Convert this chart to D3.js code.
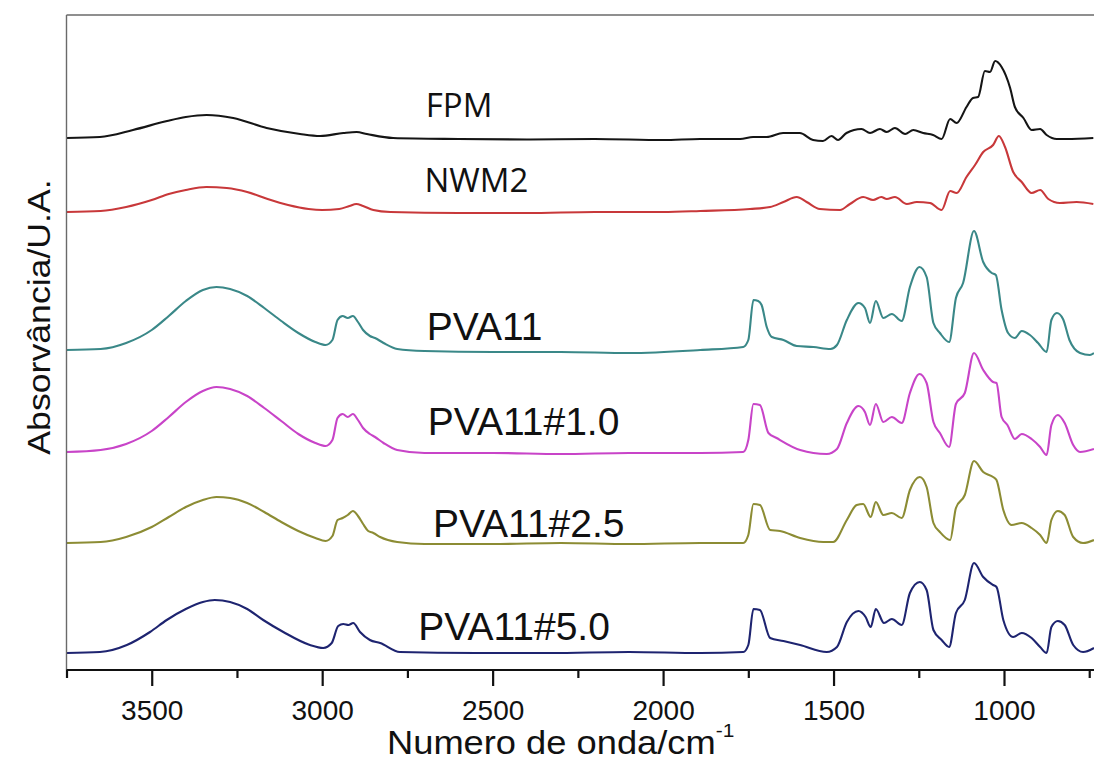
<!DOCTYPE html>
<html>
<head>
<meta charset="utf-8">
<script src="https://cdn.jsdelivr.net/npm/d3@7"></script>
<style>
  body { margin: 0; background: #fff; }
  svg { display: block; }
</style>
</head>
<body>
<div id="wrapper"></div>
<script>
// spectra: [wavenumber (cm-1), absorbance (a.u., stacked)]
const fpm = [[3750,5.32],[3652,5.33],[3555,5.40],[3455,5.49],[3400,5.53],[3339,5.55],[3261,5.52],[3163,5.42],[3065,5.36],[3006,5.34],[2938,5.37],[2899,5.38],[2869,5.36],[2792,5.32],[2600,5.31],[2400,5.305],[2200,5.31],[2000,5.30],[1891,5.31],[1774,5.31],[1736,5.33],[1696,5.33],[1648,5.37],[1599,5.37],[1560,5.30],[1531,5.29],[1506,5.34],[1487,5.30],[1462,5.37],[1418,5.41],[1393,5.37],[1364,5.41],[1344,5.38],[1320,5.42],[1290,5.36],[1266,5.40],[1237,5.37],[1208,5.35],[1183,5.31],[1158,5.51],[1139,5.47],[1110,5.63],[1091,5.72],[1076,5.73],[1056,5.99],[1041,5.98],[1026,6.09],[1007,6.03],[982,5.82],[968,5.63],[943,5.52],[919,5.40],[894,5.41],[875,5.35],[845,5.31],[816,5.31],[738,5.32]]

const nwm2 = [[3750,4.58],[3650,4.59],[3575,4.63],[3500,4.70],[3450,4.76],[3400,4.80],[3340,4.83],[3280,4.82],[3220,4.78],[3160,4.71],[3100,4.65],[3040,4.61],[3000,4.60],[2950,4.61],[2920,4.64],[2900,4.66],[2880,4.64],[2850,4.60],[2800,4.58],[2600,4.57],[2400,4.57],[2200,4.58],[2000,4.58],[1891,4.59],[1745,4.61],[1686,4.63],[1647,4.68],[1608,4.73],[1579,4.68],[1540,4.61],[1481,4.60],[1452,4.66],[1413,4.73],[1384,4.70],[1360,4.73],[1344,4.71],[1320,4.73],[1285,4.66],[1256,4.68],[1217,4.67],[1183,4.60],[1158,4.79],[1139,4.77],[1110,4.93],[1085,5.05],[1061,5.18],[1032,5.25],[1015,5.34],[997,5.23],[973,4.98],[948,4.88],[919,4.77],[894,4.80],[870,4.71],[836,4.67],[787,4.68],[738,4.66]]

const pva11 = [[3750,3.20],[3650,3.21],[3575,3.27],[3500,3.40],[3450,3.54],[3400,3.69],[3350,3.80],[3310,3.83],[3270,3.81],[3220,3.74],[3170,3.62],[3120,3.49],[3070,3.37],[3020,3.28],[2990,3.25],[2970,3.30],[2955,3.50],[2940,3.54],[2925,3.52],[2910,3.54],[2895,3.48],[2880,3.40],[2860,3.34],[2845,3.32],[2820,3.27],[2780,3.21],[2700,3.19],[2500,3.18],[2300,3.18],[2100,3.17],[1891,3.20],[1765,3.23],[1750,3.30],[1735,3.70],[1721,3.69],[1711,3.65],[1696,3.43],[1681,3.33],[1647,3.30],[1608,3.24],[1559,3.23],[1509,3.21],[1490,3.25],[1461,3.50],[1427,3.67],[1408,3.62],[1393,3.47],[1376,3.69],[1354,3.52],[1329,3.56],[1300,3.49],[1276,3.83],[1248,4.03],[1227,3.93],[1207,3.47],[1188,3.37],[1161,3.28],[1141,3.72],[1120,3.87],[1088,4.39],[1061,4.08],[1036,3.97],[1024,3.95],[1007,3.60],[988,3.37],[968,3.32],[948,3.39],[924,3.35],[900,3.27],[875,3.18],[861,3.50],[845,3.57],[827,3.51],[808,3.30],[777,3.17],[748,3.15],[736,3.17]]

const pva11_10 = [[3750,2.18],[3650,2.20],[3575,2.26],[3500,2.39],[3450,2.53],[3400,2.68],[3350,2.79],[3310,2.83],[3270,2.81],[3220,2.74],[3170,2.62],[3120,2.49],[3070,2.36],[3020,2.27],[2990,2.24],[2970,2.30],[2955,2.52],[2940,2.56],[2925,2.53],[2910,2.56],[2895,2.50],[2880,2.42],[2860,2.36],[2845,2.33],[2820,2.27],[2780,2.20],[2700,2.17],[2500,2.17],[2300,2.16],[2100,2.17],[1891,2.17],[1765,2.18],[1750,2.30],[1735,2.66],[1716,2.65],[1691,2.37],[1667,2.32],[1598,2.20],[1520,2.16],[1490,2.21],[1461,2.47],[1427,2.64],[1408,2.58],[1393,2.45],[1376,2.66],[1354,2.48],[1329,2.53],[1300,2.47],[1276,2.77],[1248,2.96],[1227,2.87],[1207,2.48],[1188,2.37],[1161,2.23],[1141,2.66],[1115,2.77],[1088,3.17],[1061,3.00],[1032,2.88],[1022,2.87],[1007,2.53],[990,2.45],[968,2.31],[948,2.36],[919,2.31],[894,2.23],[875,2.15],[861,2.45],[842,2.55],[822,2.47],[797,2.25],[777,2.18],[736,2.21]]

const pva11_25 = [[3750,1.27],[3650,1.28],[3575,1.33],[3500,1.43],[3450,1.53],[3400,1.63],[3350,1.70],[3310,1.73],[3270,1.72],[3220,1.67],[3170,1.58],[3120,1.48],[3070,1.39],[3020,1.32],[2990,1.29],[2970,1.34],[2955,1.50],[2940,1.52],[2925,1.55],[2910,1.59],[2895,1.54],[2880,1.46],[2865,1.39],[2850,1.37],[2830,1.33],[2780,1.28],[2700,1.26],[2500,1.26],[2300,1.27],[2100,1.26],[1891,1.27],[1765,1.27],[1750,1.35],[1735,1.66],[1716,1.65],[1686,1.40],[1657,1.39],[1598,1.32],[1530,1.28],[1501,1.28],[1461,1.50],[1432,1.65],[1413,1.66],[1391,1.53],[1376,1.68],[1354,1.55],[1329,1.57],[1300,1.52],[1276,1.80],[1247,1.93],[1227,1.83],[1207,1.47],[1188,1.38],[1158,1.30],[1141,1.62],[1115,1.75],[1088,2.09],[1061,1.98],[1032,1.93],[1022,1.90],[1002,1.60],[978,1.45],[948,1.47],[919,1.42],[894,1.35],[875,1.27],[861,1.50],[842,1.59],[822,1.55],[797,1.33],[768,1.27],[736,1.30]]

const pva11_50 = [[3750,0.17],[3652,0.18],[3573,0.25],[3505,0.38],[3456,0.50],[3400,0.61],[3350,0.68],[3315,0.70],[3270,0.68],[3220,0.61],[3173,0.50],[3114,0.38],[3036,0.25],[2997,0.22],[2972,0.27],[2953,0.44],[2938,0.46],[2923,0.45],[2909,0.47],[2889,0.38],[2860,0.30],[2830,0.27],[2772,0.18],[2550,0.17],[2332,0.17],[2100,0.18],[1891,0.17],[1765,0.18],[1750,0.25],[1735,0.61],[1716,0.60],[1686,0.32],[1647,0.29],[1598,0.25],[1520,0.18],[1490,0.23],[1461,0.48],[1427,0.59],[1406,0.53],[1391,0.43],[1376,0.61],[1352,0.47],[1329,0.51],[1300,0.45],[1276,0.77],[1247,0.88],[1227,0.80],[1207,0.40],[1183,0.30],[1161,0.23],[1141,0.57],[1115,0.70],[1088,1.07],[1061,0.93],[1032,0.85],[1022,0.83],[1002,0.50],[973,0.33],[948,0.37],[919,0.32],[894,0.23],[875,0.17],[861,0.43],[842,0.49],[822,0.45],[797,0.25],[768,0.18],[736,0.22]]

const seriesNames = ["FPM", "NWM2", "PVA11", "PVA11#1.0", "PVA11#2.5", "PVA11#5.0"]
const seriesData = [fpm, nwm2, pva11, pva11_10, pva11_25, pva11_50]
const majorTicks = [3500, 3000, 2500, 2000, 1500, 1000]
const minorTicks = [3750, 3250, 2750, 2250, 1750, 1250, 750]

const colors = ["#151515", "#c8383a", "#3a8888", "#c844c8", "#8c8c34", "#1e2470"]
// where each label's baseline starts, in data units [wavenumber, absorbance]
const labelSpots = [[2696, 5.53], [2700, 4.78], [2693, 3.30], [2690, 2.35], [2675, 1.33], [2718, 0.30]]
const sansLabel = "'Open Sans', 'Noto Sans', sans-serif"
const arial = "Arial, 'Liberation Sans', sans-serif"

const width = 1094
const height = 760
const mLeft = 66.5, mRight = 1094, mTop = 15, mBottom = 670

const svg = d3.select("#wrapper").append("svg")
  .attr("width", width)
  .attr("height", height)

const x = d3.scaleLinear().domain([3750, 736]).range([mLeft, mRight])
const y = d3.scaleLinear().domain([0, 6.55]).range([mBottom, mTop])

const line = d3.line()
  .x(d => x(d[0]))
  .y(d => y(d[1]))
  .curve(d3.curveMonotoneX)

svg.append("clipPath").attr("id", "plotclip")
  .append("rect").attr("x", mLeft).attr("y", mTop).attr("width", mRight - mLeft).attr("height", mBottom - mTop)

const plot = svg.append("g").attr("clip-path", "url(#plotclip)")

seriesData.forEach((s, i) => {
  plot.append("path")
    .datum(s)
    .attr("fill", "none")
    .attr("stroke", colors[i])
    .attr("stroke-width", 2.1)
    .attr("stroke-linejoin", "round")
    .attr("d", line)
})

// labels (first two in a humanist face, the PVA ones in Arial)
seriesNames.forEach((name, i) => {
  svg.append("text")
    .attr("x", x(labelSpots[i][0]))
    .attr("y", y(labelSpots[i][1]))
    .attr("font-family", i < 2 ? sansLabel : arial)
    .attr("font-size", i < 2 ? 33 : 39)
    .attr("fill", "#111")
    .text(name)
})

// frame (left + top)
svg.append("line").attr("x1", mLeft).attr("x2", mLeft).attr("y1", mTop).attr("y2", mBottom)
  .attr("stroke", "#6a6a6a").attr("stroke-width", 1.4)
svg.append("line").attr("x1", mLeft).attr("x2", mRight).attr("y1", mTop).attr("y2", mTop)
  .attr("stroke", "#6a6a6a").attr("stroke-width", 1.4)

// bottom axis
const xAxis = d3.axisBottom(x)
  .tickValues(majorTicks)
  .tickSize(16)
  .tickPadding(14)
  .tickFormat(d3.format("d"))

const minorAxis = d3.axisBottom(x)
  .tickValues(minorTicks)
  .tickSize(8)
  .tickFormat("")

const gMinor = svg.append("g").attr("transform", `translate(0,${mBottom})`).call(minorAxis)
gMinor.select(".domain").remove()
gMinor.selectAll(".tick line").attr("stroke", "#111").attr("stroke-width", 2.2)

const gx = svg.append("g").attr("transform", `translate(0,${mBottom})`).call(xAxis)
gx.select(".domain").attr("stroke", "#111").attr("stroke-width", 2.2)
  .attr("d", `M${mLeft},0H${mRight}`)
gx.selectAll(".tick line").attr("stroke", "#111").attr("stroke-width", 2.2)
gx.selectAll(".tick text")
  .attr("font-family", arial)
  .attr("font-size", 28)
  .attr("fill", "#111")

// axis titles (the source face runs a bit wider than Arial)
const xt = svg.append("text")
  .attr("transform", "translate(387,754) scale(1.1,1)")
  .attr("font-family", arial)
  .attr("font-size", 33)
  .attr("fill", "#111")
xt.append("tspan").text("Numero de onda/cm")
xt.append("tspan").attr("dy", -17).attr("font-size", 19).text("-1")

svg.append("text")
  .attr("transform", `translate(50,317) rotate(-90) scale(1.15,1)`)
  .attr("text-anchor", "middle")
  .attr("font-family", arial)
  .attr("font-size", 31)
  .attr("fill", "#111")
  .text("Absorvância/U.A.")
</script>
</body>
</html>
